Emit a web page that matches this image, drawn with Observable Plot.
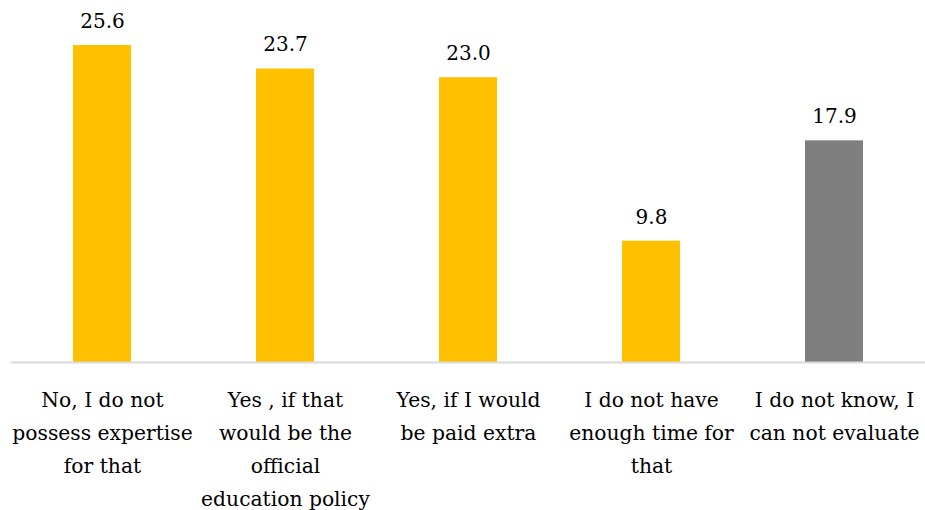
<!DOCTYPE html>
<html>
<head>
<meta charset="utf-8">
<script src="https://cdn.jsdelivr.net/npm/d3@7"></script>
<script src="https://cdn.jsdelivr.net/npm/@observablehq/plot@0.6"></script>
<style>
  html, body { margin: 0; padding: 0; background: #fff; }
  #chart svg { display: block; }
</style>
</head>
<body>
<div id="chart"></div>
<script>
const categories = ["c1", "c2", "c3", "c4", "c5"];
const tickLabels = [
  "No, I do not\npossess expertise\nfor that",
  "Yes , if that\nwould be the\nofficial\neducation policy",
  "Yes, if I would\nbe paid extra",
  "I do not have\nenough time for\nthat",
  "I do not know, I\ncan not evaluate"
];
const values = [25.6, 23.7, 23.0, 9.8, 17.9];
const colors = ["#FFC000", "#FFC000", "#FFC000", "#FFC000", "#7F7F7F"];

const data = categories.map((c, i) => ({cat: c, value: values[i], color: colors[i], label: tickLabels[i]}));
const labelOf = new Map(categories.map((c, i) => [c, tickLabels[i]]));

const font = "'DejaVu Serif', 'Liberation Serif', serif";

const chart = Plot.plot({
  width: 925,
  height: 510,
  marginLeft: 11,
  marginRight: -1,
  marginTop: 45,
  marginBottom: 148,
  style: {fontFamily: font, color: "#000", background: "#fff"},
  x: {domain: categories, paddingInner: 0.683, paddingOuter: 0.3415, axis: null, label: null},
  y: {domain: [0, 25.6], axis: null},
  marks: [
    Plot.barY(data, {x: "cat", y: "value", fill: "color"}),
    Plot.ruleY([0], {stroke: "#D9D9D9", strokeWidth: 2}),
    Plot.text(data, {x: "cat", y: "value", text: d => d.value.toFixed(1), dy: -24, fontSize: 20, fill: "#000"}),
    Plot.axisX({tickSize: 0, tickPadding: 21, fontSize: 20.3, lineHeight: 1.62, label: null, tickFormat: d => labelOf.get(d), fill: "#000"})
  ]
});
document.getElementById("chart").appendChild(chart);
</script>
</body>
</html>
